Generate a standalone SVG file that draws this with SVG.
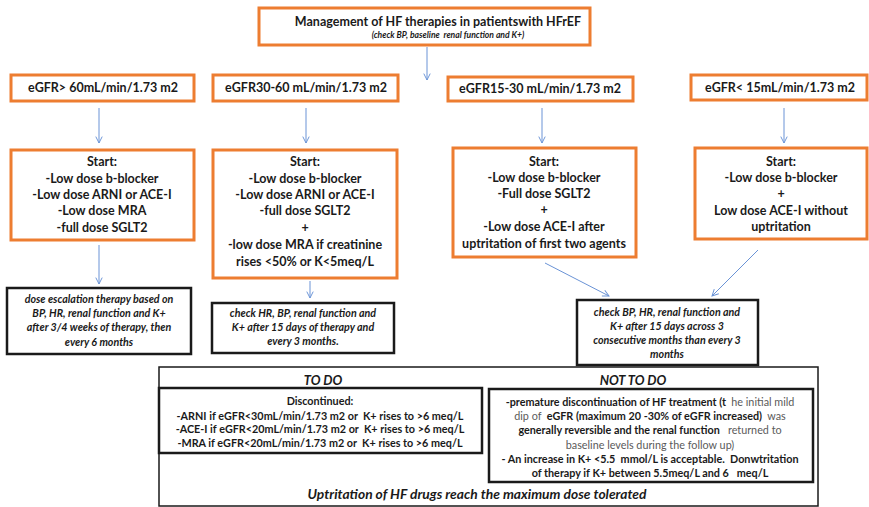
<svg xmlns="http://www.w3.org/2000/svg" width="869" height="507" viewBox="0 0 869 507">
  <style>
    text { font-family: Lato, "Liberation Sans", sans-serif; fill: #1a1a1a; text-anchor: middle; white-space: pre; }
    .org { fill: #ffffff; stroke: #ED7D31; stroke-width: 3; }
    .blk { fill: #ffffff; stroke: #1a1a1a; stroke-width: 2.5; }
    .thin { fill: none; stroke: #1a1a1a; stroke-width: 1.5; }
    .h { font-size: 12.5px; font-weight: bold; }
    .b { font-size: 12.5px; font-weight: bold; }
    .n { font-size: 10.7px; font-weight: bold; font-style: italic; }
    .s { font-size: 10.8px; font-weight: bold; }
    .lt { font-weight: normal; fill: #5a5a5a; }
    .hd { font-size: 13px; font-weight: bold; font-style: italic; }
    .conn line { stroke: #6a93d6; stroke-width: 1; marker-end: url(#arr); }
  </style>
  <defs>
    <marker id="arr" viewBox="0 0 10 10" refX="9" refY="5" markerWidth="8" markerHeight="8" orient="auto" markerUnits="userSpaceOnUse">
      <path d="M1,1 L9,5 L1,9" fill="none" stroke="#6a93d6" stroke-width="1.2"/>
    </marker>
  </defs>

  <!-- connectors -->
  <g id="connectors" class="conn">
    <line x1="427" y1="47" x2="427" y2="80"/>
    <line x1="99" y1="108" x2="99" y2="143"/>
    <line x1="306" y1="108" x2="306" y2="143"/>
    <line x1="542" y1="108" x2="542" y2="143"/>
    <line x1="784" y1="108" x2="784" y2="143"/>
    <line x1="99" y1="245" x2="99" y2="284"/>
    <line x1="310" y1="281" x2="310" y2="298"/>
    <line x1="545" y1="263" x2="609" y2="296"/>
    <line x1="758" y1="250" x2="712" y2="296"/>
  </g>

  <!-- title -->
  <g id="title">
    <rect class="org" x="259" y="8" width="331" height="37"/>
    <text class="h" x="438" y="26">Management of HF therapies in patientswith HFrEF</text>
    <text x="448" y="38" style="font-size:8.6px;font-weight:bold;font-style:italic">(check BP, baseline  renal function and K+)</text>
  </g>

  <!-- eGFR ranges -->
  <g id="egfr1">
    <rect class="org" x="11" y="75" width="183" height="26"/>
    <text class="h" x="103" y="92">eGFR&gt; 60mL/min/1.73 m2</text>
  </g>
  <g id="egfr2">
    <rect class="org" x="213" y="75" width="185" height="26"/>
    <text class="h" x="306" y="92">eGFR30-60 mL/min/1.73 m2</text>
  </g>
  <g id="egfr3">
    <rect class="org" x="448" y="77" width="185" height="24"/>
    <text class="h" x="540" y="93">eGFR15-30 mL/min/1.73 m2</text>
  </g>
  <g id="egfr4">
    <rect class="org" x="691" y="75" width="176" height="25"/>
    <text class="h" x="780" y="92">eGFR&lt; 15mL/min/1.73 m2</text>
  </g>

  <!-- starting therapies -->
  <g id="start1">
    <rect class="org" x="11" y="150" width="183" height="90"/>
    <text class="b" x="102" y="166">Start:</text>
    <text class="b" x="102" y="183">-Low dose b-blocker</text>
    <text class="b" x="102" y="199">-Low dose ARNI or ACE-I</text>
    <text class="b" x="102" y="215">-Low dose MRA</text>
    <text class="b" x="102" y="232">-full dose SGLT2</text>
  </g>
  <g id="start2">
    <rect class="org" x="213" y="150" width="184" height="128"/>
    <text class="b" x="305" y="166">Start:</text>
    <text class="b" x="305" y="183">-Low dose b-blocker</text>
    <text class="b" x="305" y="199">-Low dose ARNI or ACE-I</text>
    <text class="b" x="305" y="215">-full dose SGLT2</text>
    <text class="b" x="305" y="232">+</text>
    <text class="b" x="305" y="249">-low dose MRA if creatinine</text>
    <text class="b" x="305" y="266">rises &lt;50% or K&lt;5meq/L</text>
  </g>
  <g id="start3">
    <rect class="org" x="453" y="148" width="183" height="109"/>
    <text class="b" x="544" y="166">Start:</text>
    <text class="b" x="544" y="182">-Low dose b-blocker</text>
    <text class="b" x="544" y="198">-Full dose SGLT2</text>
    <text class="b" x="544" y="214">+</text>
    <text class="b" x="544" y="231">-Low dose ACE-I after</text>
    <text class="b" x="544" y="248">uptritation of first two agents</text>
  </g>
  <g id="start4">
    <rect class="org" x="695" y="148" width="172" height="91"/>
    <text class="b" x="781" y="166">Start:</text>
    <text class="b" x="781" y="182">-Low dose b-blocker</text>
    <text class="b" x="781" y="198">+</text>
    <text class="b" x="781" y="215">Low dose ACE-I without</text>
    <text class="b" x="781" y="231">uptritation</text>
  </g>

  <!-- follow-up checks -->
  <g id="check1">
    <rect class="blk" x="7" y="288" width="184" height="66"/>
    <text class="n" x="99" y="303">dose escalation therapy based on</text>
    <text class="n" x="99" y="317">BP, HR, renal function and K+</text>
    <text class="n" x="99" y="331">after 3/4 weeks of therapy, then</text>
    <text class="n" x="99" y="346">every 6 months</text>
  </g>
  <g id="check2">
    <rect class="blk" x="212" y="303" width="182" height="50"/>
    <text class="n" x="303" y="317">check HR, BP, renal function and</text>
    <text class="n" x="303" y="331">K+ after 15 days of therapy and</text>
    <text class="n" x="303" y="345">every 3 months.</text>
  </g>
  <g id="check3">
    <rect class="blk" x="577" y="300" width="181" height="65"/>
    <text class="n" x="667" y="316">check BP, HR, renal function and</text>
    <text class="n" x="667" y="330">K+ after 15 days across 3</text>
    <text class="n" x="667" y="344">consecutive months than every 3</text>
    <text class="n" x="667" y="358">months</text>
  </g>

  <!-- recommendations -->
  <g id="recommendations">
    <rect class="thin" x="159" y="367" width="659" height="139"/>
    <text class="hd" x="323" y="385">TO DO</text>
    <text class="hd" x="633" y="385">NOT TO DO</text>
    <text class="hd" x="477" y="499" style="font-size:13.8px">Uptritation of HF drugs reach the maximum dose tolerated</text>
  </g>
  <g id="todo">
    <rect class="blk" x="159" y="388" width="323" height="65"/>
    <text class="s" x="320" y="405">Discontinued:</text>
    <text class="s" x="320" y="420">-ARNI if eGFR&lt;30mL/min/1.73 m2 or  K+ rises to &gt;6 meq/L</text>
    <text class="s" x="320" y="433">-ACE-I if eGFR&lt;20mL/min/1.73 m2 or  K+ rises to &gt;6 meq/L</text>
    <text class="s" x="320" y="447">-MRA if eGFR&lt;20mL/min/1.73 m2 or  K+ rises to &gt;6 meq/L</text>
  </g>
  <g id="nottodo">
    <rect class="blk" x="489" y="389" width="324" height="93"/>
    <text class="s" x="650" y="406">-premature discontinuation of HF treatment (t  <tspan class="lt">he initial mild</tspan></text>
    <text class="s" x="650" y="420"><tspan class="lt">dip of </tspan> eGFR (maximum 20 -30% of eGFR increased)  <tspan class="lt">was</tspan></text>
    <text class="s" x="650" y="434">generally reversible and the renal function <tspan class="lt">  returned to</tspan></text>
    <text class="s lt" x="650" y="449">baseline levels during the follow up)</text>
    <text class="s" x="650" y="463">- An increase in K+ &lt;5.5  mmol/L is acceptable.  Donwtritation</text>
    <text class="s" x="650" y="477">of therapy if K+ between 5.5meq/L and 6   meq/L</text>
  </g>
</svg>
